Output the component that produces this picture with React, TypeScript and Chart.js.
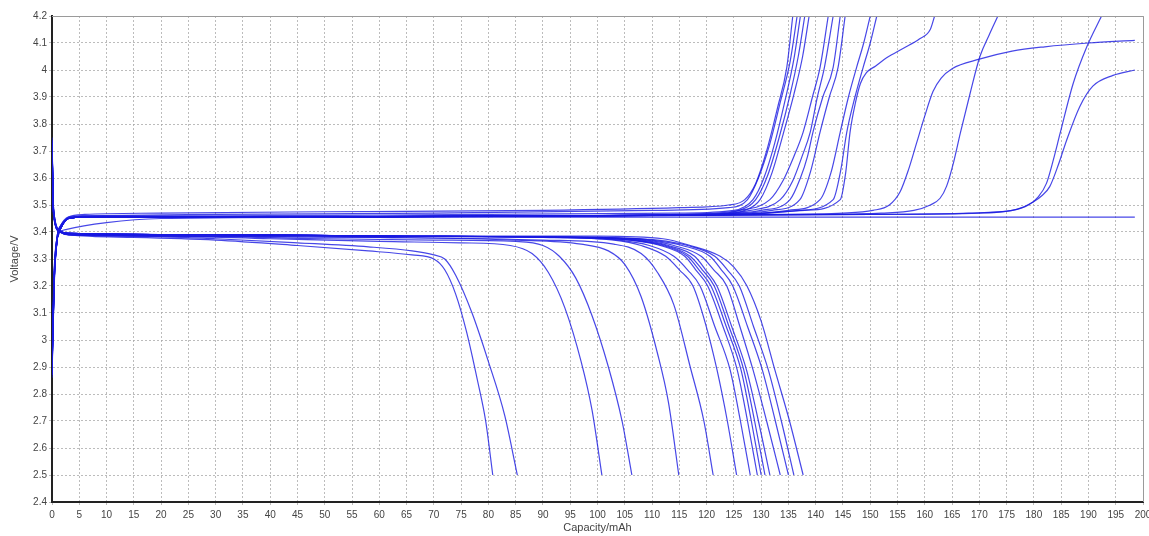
import React, { useEffect, useRef } from 'react';
import { Chart, registerables } from 'chart.js';

Chart.register(...registerables);

// ---- tick labels ----
const xTickLabels = ['0','5','10','15','20','25','30','35','40','45','50','55','60','65','70','75','80','85','90','95','100','105','110','115','120','125','130','135','140','145','150','155','160','165','170','175','180','185','190','195','200'];
const yTickLabels = ['2.4','2.5','2.6','2.7','2.8','2.9','3','3.1','3.2','3.3','3.4','3.5','3.6','3.7','3.8','3.9','4','4.1','4.2'];

// ---- discharge curves [capacity mAh, voltage V] ----
const discharge01 = [[0,3.70],[0.3,3.47],[1.5,3.40],[3,3.39],[15,3.38],[30,3.37],[45,3.35],[58,3.33],[66,3.315],[70,3.30],[72,3.26],[74,3.17],[76,3.03],[78,2.85],[79.5,2.70],[80.8,2.50]];
const discharge02 = [[0,3.71],[0.3,3.47],[1.5,3.40],[3,3.39],[15,3.385],[30,3.375],[45,3.36],[58,3.345],[66,3.33],[70,3.315],[72,3.30],[74,3.24],[77,3.10],[80,2.92],[83,2.72],[85.3,2.50]];
const discharge03 = [[0,3.72],[0.3,3.48],[1.5,3.40],[3,3.39],[20,3.385],[40,3.375],[60,3.365],[75,3.36],[84,3.35],[88,3.32],[91,3.25],[94,3.12],[97,2.92],[99,2.74],[100.8,2.50]];
const discharge04 = [[0,3.73],[0.3,3.47],[1.5,3.40],[3,3.39],[25,3.385],[50,3.375],[70,3.37],[85,3.365],[90,3.35],[93,3.31],[96,3.23],[99,3.09],[102,2.90],[104.5,2.70],[106.3,2.50]];
const discharge05 = [[0,3.72],[0.3,3.46],[1.5,3.40],[3,3.39],[30,3.385],[60,3.38],[85,3.37],[97,3.355],[102,3.33],[105,3.28],[108,3.16],[111,2.95],[113,2.77],[114.9,2.50]];
const discharge06 = [[0,3.70],[0.3,3.46],[1.5,3.40],[3,3.39],[30,3.385],[60,3.38],[90,3.37],[103,3.355],[108,3.32],[111,3.25],[114,3.13],[117,2.90],[119.5,2.70],[121.2,2.50]];
const discharge07 = [[0,3.74],[0.3,3.48],[1.5,3.405],[3,3.395],[30,3.39],[60,3.385],[90,3.38],[103,3.37],[108,3.35],[112.5,3.31],[115,3.26],[117.5,3.20],[119.8,3.06],[121.9,2.89],[123.8,2.70],[125.5,2.50]];
const discharge08 = [[0,3.73],[0.3,3.47],[1.5,3.40],[3,3.395],[30,3.39],[60,3.385],[92,3.38],[104,3.37],[109.5,3.35],[114,3.31],[116.5,3.26],[118.8,3.20],[121.5,3.05],[124.3,2.89],[126.2,2.70],[128,2.50]];
const discharge09 = [[0,3.72],[0.3,3.47],[1.5,3.40],[3,3.395],[30,3.39],[60,3.385],[95,3.38],[106,3.37],[111.5,3.35],[116,3.31],[118,3.26],[120.2,3.20],[123,3.05],[125.6,2.89],[127.5,2.70],[129.3,2.50]];
const discharge10 = [[0,3.75],[0.3,3.48],[1.5,3.405],[3,3.395],[30,3.39],[60,3.385],[95,3.38],[106,3.37],[112,3.35],[116.5,3.31],[118.6,3.26],[120.8,3.20],[123.6,3.05],[126.3,2.89],[128.2,2.70],[130,2.50]];
const discharge11 = [[0,3.71],[0.3,3.46],[1.5,3.40],[3,3.395],[30,3.39],[60,3.385],[96,3.38],[107,3.37],[112.5,3.35],[117,3.31],[119.2,3.26],[121.4,3.20],[124.1,3.05],[126.8,2.89],[128.8,2.70],[130.7,2.50]];
const discharge12 = [[0,3.73],[0.3,3.47],[1.5,3.40],[3,3.395],[30,3.39],[60,3.385],[97,3.38],[108,3.37],[113,3.35],[117.8,3.31],[119.8,3.26],[121.9,3.20],[124.6,3.05],[127.3,2.89],[129.5,2.70],[131.6,2.50]];
const discharge13 = [[0,3.72],[0.3,3.47],[1.5,3.40],[3,3.395],[30,3.39],[60,3.385],[98,3.38],[109,3.37],[114,3.35],[119,3.31],[121.3,3.26],[123.7,3.20],[126.1,3.05],[128.5,2.89],[131,2.70],[133.5,2.50]];
const discharge14 = [[0,3.74],[0.3,3.48],[1.5,3.405],[3,3.395],[30,3.39],[60,3.385],[100,3.38],[110,3.37],[115.5,3.35],[120.6,3.31],[122.7,3.26],[124.8,3.20],[127.5,3.05],[130.2,2.89],[132.6,2.70],[135,2.50]];
const discharge15 = [[0,3.72],[0.3,3.47],[1.5,3.40],[3,3.395],[30,3.39],[60,3.385],[100,3.38],[111,3.37],[116.5,3.35],[121.5,3.31],[123.8,3.26],[126,3.20],[128.6,3.05],[131.3,2.89],[133.7,2.70],[136,2.50]];
const discharge16 = [[0,3.73],[0.3,3.47],[1.5,3.40],[3,3.395],[30,3.39],[60,3.385],[100,3.385],[112,3.375],[117,3.35],[122.5,3.31],[125,3.27],[127.4,3.20],[130,3.07],[132.5,2.89],[135.2,2.70],[137.7,2.50]];

// ---- charge curves [capacity mAh, voltage V] ----
const charge01 = [[0,2.88],[0.4,3.22],[1,3.38],[1.5,3.41],[3,3.455],[6,3.465],[20,3.47],[50,3.475],[90,3.48],[115,3.49],[124,3.50],[127,3.52],[129,3.58],[131,3.70],[133,3.86],[134.7,4.01],[135.8,4.20]];
const charge02 = [[0,2.90],[0.4,3.24],[1,3.39],[1.5,3.42],[3,3.455],[6,3.46],[30,3.465],[70,3.47],[110,3.48],[124,3.49],[127.5,3.52],[129.5,3.60],[131.5,3.72],[133.5,3.88],[135.3,4.03],[136.6,4.20]];
const charge03 = [[0,2.86],[0.4,3.20],[1,3.38],[1.5,3.41],[3,3.45],[6,3.46],[30,3.46],[80,3.465],[115,3.47],[125,3.48],[128.5,3.52],[130.5,3.60],[132.5,3.73],[134.3,3.88],[136,4.04],[137.2,4.20]];
const charge04 = [[0,2.92],[0.4,3.25],[1,3.39],[1.5,3.42],[3,3.45],[6,3.455],[40,3.455],[90,3.46],[120,3.465],[126,3.48],[129,3.52],[131.2,3.61],[133.3,3.75],[135.2,3.90],[136.8,4.05],[138,4.20]];
const charge05 = [[0,2.89],[0.4,3.22],[1,3.38],[1.5,3.41],[3,3.45],[6,3.455],[40,3.455],[90,3.46],[122,3.465],[127,3.48],[129.8,3.52],[132,3.62],[134,3.76],[136,3.91],[137.6,4.05],[138.8,4.20]];
const charge06 = [[0,2.90],[0.4,3.23],[1,3.38],[1.5,3.41],[3,3.45],[6,3.455],[40,3.455],[90,3.46],[115,3.465],[126,3.48],[131.6,3.52],[134,3.59],[136,3.68],[137.7,3.77],[139.4,3.90],[140.8,4.01],[142.3,4.20]];
const charge07 = [[0,2.87],[0.4,3.21],[1,3.38],[1.5,3.41],[3,3.45],[6,3.455],[40,3.455],[90,3.46],[118,3.465],[128,3.48],[133.5,3.52],[135.8,3.59],[137.5,3.68],[139,3.77],[140.3,3.90],[141.6,4.01],[143.2,4.20]];
const charge08 = [[0,2.91],[0.4,3.24],[1,3.39],[1.5,3.42],[3,3.45],[6,3.455],[40,3.455],[90,3.46],[120,3.465],[130,3.48],[135.3,3.52],[137.2,3.60],[138.5,3.68],[139.5,3.77],[141.3,3.90],[143.2,4.01],[144.5,4.20]];
const charge09 = [[0,2.88],[0.4,3.22],[1,3.38],[1.5,3.41],[3,3.45],[6,3.455],[40,3.455],[90,3.46],[122,3.465],[132,3.48],[137.1,3.52],[139,3.62],[140.8,3.77],[142.5,3.90],[144.1,4.01],[145.4,4.20]];
const charge10 = [[0,2.90],[0.4,3.23],[1,3.38],[1.5,3.41],[3,3.45],[6,3.455],[40,3.455],[90,3.46],[125,3.465],[135,3.48],[140.8,3.52],[142.8,3.62],[144.5,3.77],[146,3.90],[147.5,4.01],[148.8,4.10],[150,4.20]];
const charge11 = [[0,2.89],[0.4,3.22],[1,3.38],[1.5,3.41],[3,3.45],[6,3.455],[40,3.455],[90,3.46],[127,3.465],[137,3.48],[143.2,3.52],[144.6,3.63],[145.7,3.77],[147.2,3.90],[148.7,4.01],[150,4.10],[151.2,4.20]];
const charge12 = [[0,2.91],[0.4,3.24],[1,3.39],[1.5,3.42],[3,3.45],[6,3.455],[40,3.455],[90,3.46],[125,3.465],[138,3.48],[144.5,3.52],[145.5,3.62],[146.3,3.77],[147.3,3.88],[148.2,3.95],[149.3,3.99],[151,4.015],[153,4.045],[156,4.08],[159,4.115],[161,4.15],[161.8,4.20]];
const charge13 = [[0,2.88],[0.4,3.22],[1,3.38],[1.5,3.41],[3,3.45],[6,3.455],[40,3.455],[90,3.46],[130,3.465],[145,3.47],[150.5,3.48],[153.5,3.50],[155.5,3.55],[157,3.63],[158.5,3.73],[160,3.83],[161.5,3.92],[163,3.97],[165,4.005],[170,4.04],[176,4.07],[182,4.086],[190,4.10],[198.5,4.11]];
const charge14 = [[0,2.90],[0.4,3.23],[1,3.38],[1.5,3.41],[3,3.45],[6,3.455],[40,3.455],[90,3.46],[140,3.465],[152,3.47],[158,3.48],[161,3.50],[162.8,3.525],[164,3.57],[165.3,3.66],[166.5,3.765],[168.3,3.913],[170.1,4.05],[171.8,4.13],[173.4,4.20]];
const charge15 = [[0,2.87],[0.4,3.21],[1,3.38],[1.5,3.41],[3,3.45],[6,3.455],[40,3.455],[100,3.46],[150,3.465],[168,3.47],[176,3.48],[179,3.50],[180.8,3.53],[182.3,3.58],[183.6,3.67],[184.8,3.765],[187.2,3.95],[189.7,4.086],[192.4,4.20]];
const charge16 = [[0,2.89],[0.4,3.22],[1,3.38],[1.5,3.41],[3,3.45],[6,3.455],[40,3.455],[100,3.46],[150,3.465],[170,3.47],[177,3.485],[179.8,3.51],[181.5,3.535],[182.9,3.568],[184.5,3.65],[186,3.74],[188.4,3.864],[190.8,3.94],[194.5,3.98],[198.5,4.00]];
const charge17 = [[0,2.95],[0.4,3.26],[1,3.38],[2.7,3.41],[10,3.435],[20,3.45],[60,3.455],[120,3.455],[160,3.455],[198.5,3.455]];

const dischargeCurves = [discharge01, discharge02, discharge03, discharge04, discharge05, discharge06, discharge07, discharge08, discharge09, discharge10, discharge11, discharge12, discharge13, discharge14, discharge15, discharge16];
const chargeCurves = [charge01, charge02, charge03, charge04, charge05, charge06, charge07, charge08, charge09, charge10, charge11, charge12, charge13, charge14, charge15, charge16, charge17];

const LINE_COLOR = 'rgba(25,25,225,0.8)';
const FONT = 'Liberation Sans, Arial, sans-serif';

const framePlugin = {
  id: 'frameTopRight',
  afterDraw(chart: any) {
    const { ctx, chartArea } = chart;
    ctx.save();
    ctx.strokeStyle = '#9a9a9a';
    ctx.lineWidth = 1;
    ctx.beginPath();
    ctx.moveTo(chartArea.left, chartArea.top + 0.5);
    ctx.lineTo(chartArea.right + 0.5, chartArea.top + 0.5);
    ctx.lineTo(chartArea.right + 0.5, chartArea.bottom);
    ctx.stroke();
    ctx.restore();
  },
};

export default function App() {
  const canvasRef = useRef<HTMLCanvasElement | null>(null);

  useEffect(() => {
    if (!canvasRef.current) return;
    const datasets = [...chargeCurves, ...dischargeCurves].map((curve, i) => ({
      label: 'curve ' + (i + 1),
      data: curve as any,
      borderColor: LINE_COLOR,
      borderWidth: 1.2,
      pointRadius: 0,
      fill: false,
      cubicInterpolationMode: 'monotone' as const,
    }));

    const chart = new Chart(canvasRef.current, {
      type: 'line',
      data: { datasets },
      plugins: [framePlugin],
      options: {
        animation: false,
        responsive: false,
        maintainAspectRatio: false,
        layout: { padding: { left: 0, right: 6, top: 16, bottom: 0 } },
        plugins: {
          legend: { display: false },
          tooltip: { enabled: false },
        },
        scales: {
          x: {
            type: 'linear',
            min: 0,
            max: 200,
            afterFit: (s: any) => { s.height = 34; s.paddingRight = 0; s.paddingLeft = 0; },
            ticks: {
              stepSize: 5,
              autoSkip: false,
              maxRotation: 0,
              padding: 4,
              color: '#444',
              font: { family: FONT, size: 10 },
              callback: (_v: any, i: number) => xTickLabels[i],
            },
            grid: { color: 'rgba(165,165,165,0.75)', lineWidth: 1, tickLength: 3 },
            border: { color: '#222', width: 2, dash: [2, 2] },
            title: {
              display: true,
              text: 'Capacity/mAh',
              color: '#444',
              font: { family: FONT, size: 11 },
              padding: { top: 1, bottom: 1 },
            },
          },
          y: {
            type: 'linear',
            min: 2.4,
            max: 4.2,
            afterFit: (s: any) => { s.width = 52; s.paddingTop = 0; s.paddingBottom = 0; },
            ticks: {
              stepSize: 0.1,
              autoSkip: false,
              padding: 2,
              color: '#444',
              font: { family: FONT, size: 10 },
              callback: (_v: any, i: number) => yTickLabels[i],
            },
            grid: { color: 'rgba(165,165,165,0.75)', lineWidth: 1, tickLength: 3 },
            border: { color: '#222', width: 2, dash: [2, 2] },
            title: {
              display: true,
              text: 'Voltage/V',
              color: '#444',
              font: { family: FONT, size: 11 },
              padding: { top: 8, bottom: 2 },
            },
          },
        },
      },
    });
    return () => chart.destroy();
  }, []);

  return (
    <div style={{ position: 'absolute', left: 0, top: 0, width: 1149, height: 536, background: '#fff' }}>
      <canvas ref={canvasRef} width={1149} height={536} style={{ display: 'block', width: 1149, height: 536 }} />
    </div>
  );
}
